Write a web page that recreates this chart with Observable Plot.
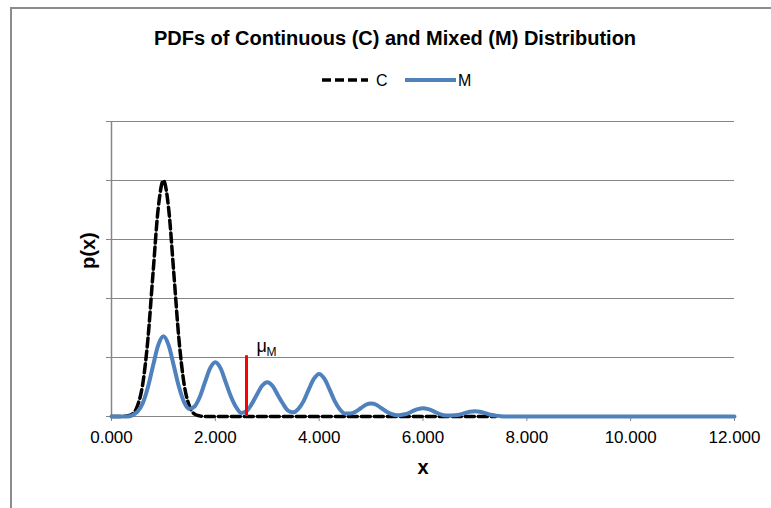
<!DOCTYPE html>
<html>
<head>
<meta charset="utf-8">
<script src="https://cdn.jsdelivr.net/npm/d3@7"></script>
<script src="https://cdn.jsdelivr.net/npm/@observablehq/plot@0.6"></script>
<style>
  body { margin: 0; background: #fff; font-family: "Liberation Sans", Arial, sans-serif; }
  #wrap { position: relative; width: 771px; height: 508px; overflow: hidden; background: #fff; }
  #frame { position: absolute; left: 10px; top: 7px; width: 800px; height: 600px;
           border-left: 2px solid #8c8c8c; border-top: 2px solid #8c8c8c; box-sizing: border-box; }
  #header { position: absolute; left: 0; top: 0; width: 771px; height: 100px; }
  #title { position: absolute; left: 395px; top: 26px; transform: translateX(-50%);
           white-space: nowrap; font-weight: bold; font-size: 20px; line-height: 24px; color: #000; }
  #legend { position: absolute; left: 0; top: 70px; }
  #legend text { font-size: 16px; font-family: "Liberation Sans", Arial, sans-serif; }
  #chart { position: absolute; left: 0; top: 100px; }
</style>
</head>
<body>
<div id="wrap">
  <div id="frame"></div>
  <div id="header">
    <div id="title"></div>
    <svg id="legend" width="771" height="20"></svg>
  </div>
  <div id="chart"></div>
</div>
<script>
// ---- data ----
const titleText = "PDFs of Continuous (C) and Mixed (M) Distribution";
const seriesNames = ["C", "M"];
const xLabel = "x";
const yLabel = "p(x)";
const xTicks = [0, 2, 4, 6, 8, 10, 12];
const yTicks = [0, 1, 2, 3, 4, 5];

// Continuous distribution C
const cX = [0, 0.1, 0.2, 0.3, 0.4, 0.5, 0.6, 0.7, 0.8, 0.9, 1.0, 1.1, 1.2, 1.3, 1.4, 1.5, 1.6, 1.7, 1.8, 7.4];
const cY = [0, 0, 0, 0.01, 0.04, 0.18, 0.54, 1.30, 2.43, 3.53, 4.00, 3.53, 2.43, 1.30, 0.54, 0.18, 0.04, 0.01, 0, 0];

// Mixed distribution M
const mX = [0, 0.1, 0.2, 0.3, 0.4, 0.5, 0.6, 0.7, 0.8, 0.9,
            1.0, 1.1, 1.2, 1.3, 1.4, 1.5, 1.6, 1.7, 1.8, 1.9,
            2.0, 2.1, 2.2, 2.3, 2.4, 2.5, 2.6, 2.7, 2.8, 2.9,
            3.0, 3.1, 3.2, 3.3, 3.4, 3.5, 3.6, 3.7, 3.8, 3.9,
            4.0, 4.1, 4.2, 4.3, 4.4, 4.5, 4.6, 4.7, 4.8, 4.9,
            5.0, 5.1, 5.2, 5.3, 5.4, 5.5, 5.6, 5.7, 5.8, 5.9,
            6.0, 6.1, 6.2, 6.3, 6.4, 6.5, 6.6, 6.7, 6.8, 6.9,
            7.0, 7.1, 7.2, 7.3, 7.4, 7.5, 7.6, 12];
const mY = [0, 0, 0, 0, 0.02, 0.08, 0.22, 0.49, 0.86, 1.21,
            1.36, 1.21, 0.86, 0.50, 0.24, 0.13, 0.17, 0.33, 0.58, 0.82,
            0.92, 0.82, 0.58, 0.34, 0.16, 0.06, 0.09, 0.21, 0.37, 0.52,
            0.58, 0.52, 0.37, 0.22, 0.10, 0.07, 0.13, 0.26, 0.46, 0.64,
            0.72, 0.64, 0.46, 0.26, 0.12, 0.05, 0.05, 0.08, 0.14, 0.20,
            0.22, 0.20, 0.14, 0.08, 0.04, 0.02, 0.03, 0.05, 0.09, 0.125,
            0.14, 0.125, 0.09, 0.05, 0.02, 0.015, 0.02, 0.03, 0.057, 0.08,
            0.09, 0.08, 0.057, 0.03, 0.015, 0.005, 0, 0];

// Mean of M
const muX = 2.6;
const muTop = 1.03;
const muLabel = "μ";
const muSub = "M";

// ---- styles ----
const colorC = "#000000";
const colorM = "#4F81BD";
const gridColor = "#868686";

// ---- build tables ----
const cData = cX.map((x, i) => ({x, y: cY[i]}));
const mData = mX.map((x, i) => ({x, y: mY[i]}));

document.getElementById("title").textContent = titleText;

// legend
const leg = d3.select("#legend");
leg.append("line").attr("x1", 322).attr("x2", 368).attr("y1", 10).attr("y2", 10)
  .attr("stroke", colorC).attr("stroke-width", 3.5).attr("stroke-dasharray", "9,4");
leg.append("text").attr("x", 376).attr("y", 10).attr("dominant-baseline", "central").text(seriesNames[0]);
leg.append("line").attr("x1", 405).attr("x2", 456).attr("y1", 10).attr("y2", 10)
  .attr("stroke", colorM).attr("stroke-width", 4);
leg.append("text").attr("x", 458).attr("y", 10).attr("dominant-baseline", "central").text(seriesNames[1]);

const chart = Plot.plot({
  width: 771,
  height: 408,
  marginLeft: 111,
  marginRight: 37,
  marginTop: 21,
  marginBottom: 92,
  x: {domain: [0, 12]},
  y: {domain: [0, 5]},
  style: {fontFamily: "Liberation Sans, Arial, sans-serif", fontSize: "17px", color: "#000", background: "transparent", overflow: "visible"},
  marks: [
    Plot.ruleY(yTicks, {stroke: gridColor, strokeWidth: 1}),
    Plot.ruleX([0], {stroke: gridColor, strokeWidth: 1.5}),
    Plot.axisY({ticks: yTicks, tickFormat: () => "", tickSize: 5, stroke: gridColor, label: null}),
    Plot.axisX({ticks: xTicks, tickFormat: d3.format(".3f"), tickSize: 5, tickPadding: 9, stroke: gridColor, fill: "#000", label: null, fontSize: 17}),
    Plot.line(cData, {x: "x", y: "y", stroke: colorC, strokeWidth: 3.5, strokeDasharray: "9,4", curve: "monotone-x"}),
    Plot.line(mData, {x: "x", y: "y", stroke: colorM, strokeWidth: 4, curve: "monotone-x"}),
    Plot.ruleX([muX], {y1: 0, y2: muTop, stroke: "#FF0000", strokeWidth: 3}),
    Plot.text([muX], {x: d => d, y: muTop, text: () => muLabel, dx: 10, dy: -9, textAnchor: "start", fontSize: 18}),
    Plot.text([muX], {x: d => d, y: muTop, text: () => muSub, dx: 20, dy: -4, textAnchor: "start", fontSize: 12}),
    Plot.text([xLabel], {frameAnchor: "bottom", text: d => d, dy: 57, fontWeight: "bold", fontSize: 20}),
    Plot.text([yLabel], {frameAnchor: "left", text: d => d, rotate: -90, dx: -23, dy: 0, fontWeight: "bold", fontSize: 20})
  ]
});
document.getElementById("chart").appendChild(chart);
</script>
</body>
</html>
